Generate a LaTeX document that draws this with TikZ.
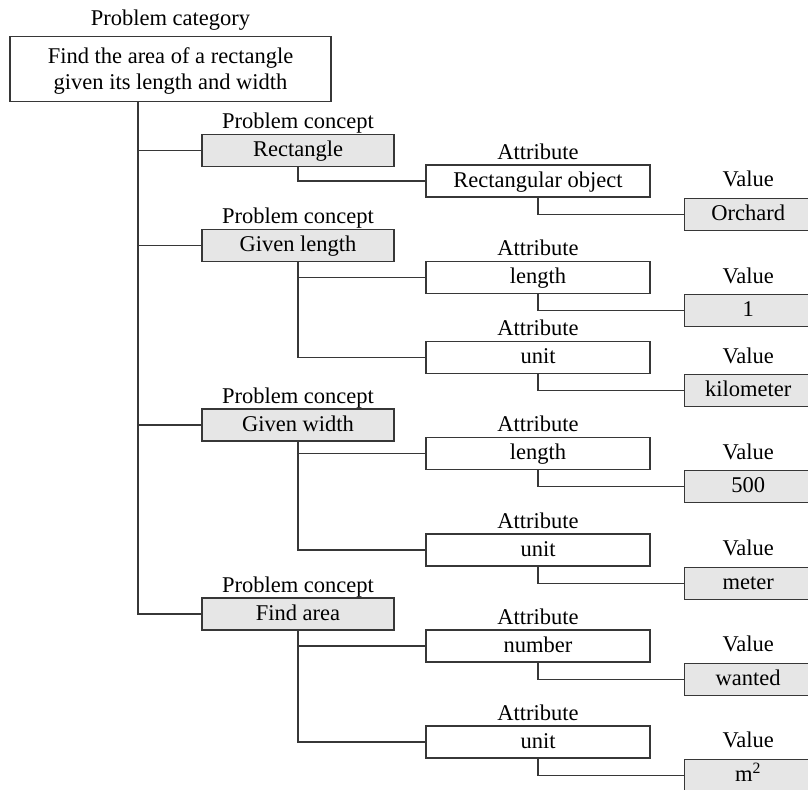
\documentclass[tikz,border=0pt]{standalone}
\usepackage{fontspec}
\setmainfont{Liberation Serif}
\usetikzlibrary{positioning}
\definecolor{boxgray}{RGB}{230,230,230}
\definecolor{linegray}{RGB}{55,55,55}

\tikzset{
  box/.style={draw=linegray, line width=0.6pt, minimum height=16pt, inner sep=0pt,
    text height=0.85em, text depth=0.25em},
  catbox/.style={draw=linegray, line width=0.6pt, minimum width=160.5pt,
    minimum height=32pt, align=center},
  concept/.style={box, fill=boxgray, minimum width=96pt},
  attr/.style={box, fill=white, minimum width=112pt},
  val/.style={box, fill=boxgray, minimum width=64pt},
  tag/.style={inner sep=0pt, text height=0.75em, text depth=0.25em},
  link/.style={draw=linegray, line width=0.6pt}
}

\begin{document}
\begin{tikzpicture}[x=0.5pt, y=-0.5pt, font=\fontsize{11.25}{13}\selectfont]
    \useasboundingbox (0,0) rectangle (808,789);
    % Category at the top
    \node[catbox, label={[tag, label distance=2.7pt]above:Problem category}] (cat)
        at (170.5,69) {\rule{0pt}{0.92em}Find the area of a rectangle\\given its length and width};
    \coordinate (trunk) at (138,101);
    % Problem concepts
    \node[concept, label={[tag]above:Problem concept}] (c1) at (298,150.5) {Rectangle};
    \node[concept, label={[tag]above:Problem concept}] (c2) at (298,245.5) {Given length};
    \node[concept, label={[tag]above:Problem concept}] (c3) at (298,425) {Given width};
    \node[concept, label={[tag]above:Problem concept}] (c4) at (298,614) {Find area};
    \foreach \c in {c1,c2,c3,c4} {
        \draw[link] (trunk) |- (\c.west);
    }
    % Attributes and their values
    \foreach \n/\p/\ya/\at/\vt in {1/c1/181/Rectangular object/Orchard,
        2/c2/277.5/length/1, 3/c2/357.5/unit/kilometer,
        4/c3/453.5/length/500, 5/c3/550/unit/meter,
        6/c4/646/number/wanted, 7/c4/742/unit/m\textsuperscript{2}} {
        \node[attr, label={[tag]above:Attribute}] (a\n) at (538,\ya) {\at};
        \node[val, anchor=north west, label={[tag, label distance=2.7pt]above:Value}] (v\n)
            at ([xshift=16.5pt]a\n.south east) {\vt};
        \draw[link] (\p.south) |- (a\n.west);
        \draw[link] (a\n.south) |- (v\n.west);
    }
\end{tikzpicture}
\end{document}
